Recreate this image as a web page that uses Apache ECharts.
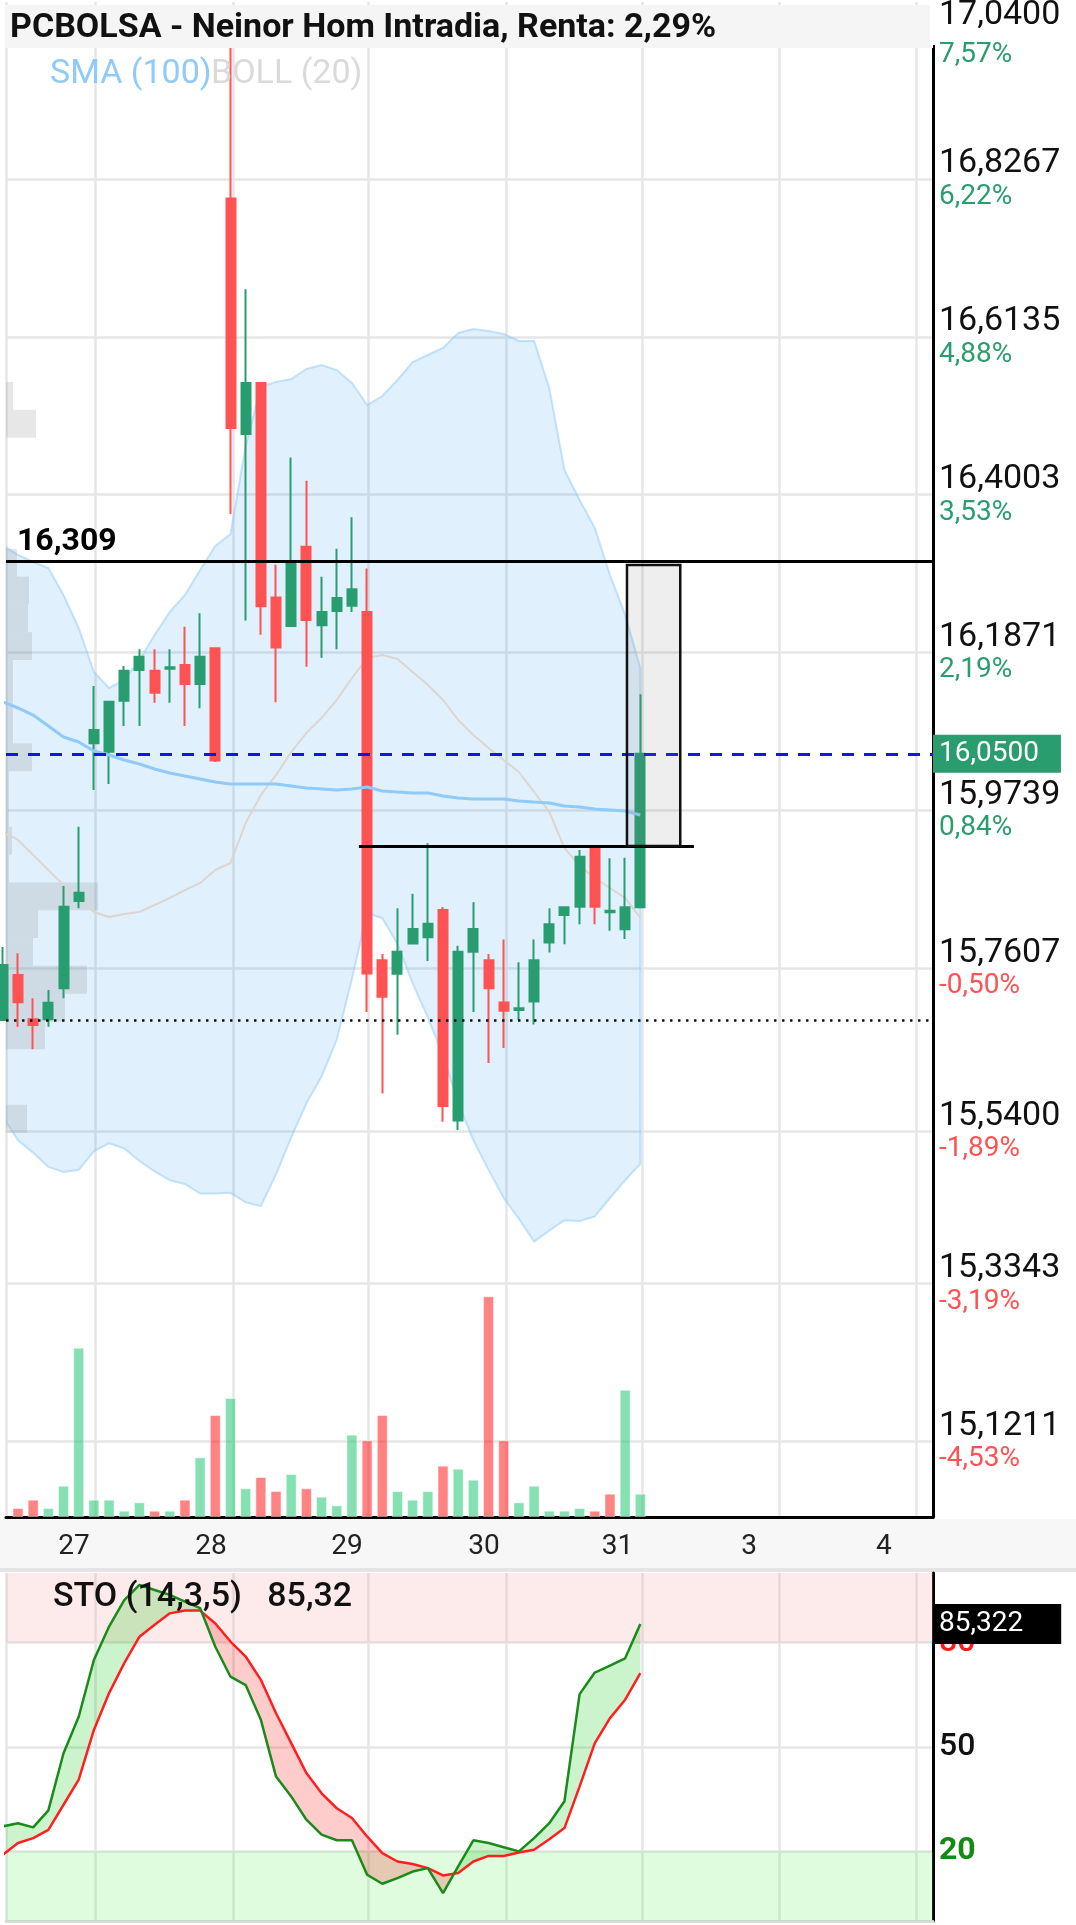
<!DOCTYPE html>
<html>
<head>
<meta charset="utf-8">
<title>PCBOLSA - Neinor Hom Intradia</title>
<script src="https://cdn.jsdelivr.net/npm/echarts@6/dist/echarts.min.js"></script>
<style>
html, body { margin: 0; padding: 0; background: #fff; }
#chart { width: 1076px; height: 1925px; }
</style>
</head>
<body>
<div id="chart"></div>
<script>
// velas horarias (indice 0 = primera vela, medio cortada por el borde)
var opens  = [15.6905, 15.7513, 15.6915, 15.6915, 15.7333, 15.8513, 16.0643, 16.053, 16.1219, 16.1634, 16.1624, 16.165, 16.1701, 16.1445, 16.1927,
              16.8004, 16.4822, 16.5511, 16.2613, 16.2229, 16.3299, 16.2237, 16.2431, 16.2502, 16.2417, 15.7713, 15.7528, 15.7937, 15.8021, 15.839,
              15.5546, 15.7825, 15.7713, 15.7142, 15.704, 15.7153, 15.795, 15.8324, 15.8436, 15.9225, 15.836, 15.8131, 15.8428];
var closes = [15.7648, 15.7145, 15.6838, 15.7139, 15.8436, 15.8625, 16.0823, 16.1205, 16.1624, 16.1813, 16.1327, 16.167, 16.1445, 16.1813, 16.0411,
              16.4903, 16.5511, 16.2494, 16.1936, 16.3074, 16.2309, 16.2417, 16.2607, 16.2724, 15.7533, 15.722, 15.7825, 15.8133, 15.8206, 15.5742,
              15.7825, 15.8133, 15.7332, 15.703, 15.7065, 15.7713, 15.8198, 15.8428, 15.9111, 15.8436, 15.838, 15.8428, 16.05];
var lows   = [15.6905, 15.6815, 15.6509, 15.6815, 15.7198, 15.8414, 16.0013, 16.0094, 16.0877, 16.0877, 16.1192, 16.1192, 16.0877, 16.1116, 16.0391,
              16.3741, 16.2302, 16.2109, 16.1197, 16.2229, 16.1678, 16.18, 16.1913, 16.2417, 15.7013, 15.591, 15.6705, 15.7926, 15.7702, 15.5529,
              15.5419, 15.7013, 15.6324, 15.6526, 15.6901, 15.6844, 15.7815, 15.7928, 15.8198, 15.8198, 15.8112, 15.8, 15.8414];
var highs  = [15.7891, 15.7807, 15.7198, 15.731, 15.8716, 15.9517, 16.1417, 16.1205, 16.1688, 16.1913, 16.1913, 16.1913, 16.2219, 16.24, 16.1927,
              17.01, 16.6777, 16.5511, 16.3056, 16.4503, 16.4191, 16.2894, 16.3272, 16.3697, 16.3006, 15.7797, 15.8413, 15.8609, 15.9292, 15.843,
              15.7909, 15.8497, 15.7797, 15.7993, 15.7685, 15.7993, 15.8414, 15.8428, 15.9202, 15.9225, 15.909, 15.9098, 16.1305];
var volumes = [null, 9, 17.3, 9, 31.3, 169.3, 17.3, 17.3, 6.3, 14.7, 6.3, 6.3, 17.3, 59.7, 102, 119, 28.7, 40, 26, 43, 28.7, 20.3,
               11.7, 82.3, 76.7, 102, 26, 17.3, 26, 51.3, 48.3, 37.3, 220.7, 76.7, 14.7, 31.3, 6.3, 6.3, 9, 6.3, 23.3, 127.3, 23.3];

// indicadores
var sma100 = [16.1201, 16.112, 16.1025, 16.0877, 16.0728, 16.0661, 16.0539, 16.0485, 16.0417, 16.0363, 16.0296, 16.0242, 16.0201, 16.0161, 16.012,
              16.0093, 16.0093, 16.0093, 16.0093, 16.0066, 16.0039, 16.0026, 16.0012, 16.0026, 16.0053, 15.9999, 15.9985, 15.9972, 15.9972, 15.9931,
              15.9904, 15.9891, 15.9891, 15.9891, 15.9864, 15.985, 15.9837, 15.9796, 15.9782, 15.9755, 15.9742, 15.9728, 15.9674];
var bollUpper = [16.332, 16.3187, 16.3092, 16.3011, 16.2647, 16.2201, 16.1606, 16.139, 16.1498, 16.1768, 16.2106, 16.2417, 16.2647, 16.2984, 16.3309,
                 16.3471, 16.466, 16.5457, 16.5524, 16.5565, 16.57, 16.5754, 16.5686, 16.5511, 16.5213, 16.5335, 16.5551, 16.5794, 16.5889, 16.5984,
                 16.6186, 16.624, 16.6213, 16.6173, 16.6078, 16.6078, 16.5443, 16.4335, 16.393, 16.3552, 16.2917, 16.2376, 16.166];
var bollMid = [15.9445, 15.9337, 15.9134, 15.8931, 15.8729, 15.8526, 15.8364, 15.8296, 15.8337, 15.8364, 15.8458, 15.8553, 15.8661, 15.8756, 15.8931,
               15.9026, 15.9566, 15.9945, 16.0215, 16.0525, 16.0782, 16.0985, 16.1228, 16.1525, 16.1795, 16.1836, 16.1782, 16.1606, 16.1431, 16.1228,
               16.0958, 16.0755, 16.058, 16.0417, 16.0255, 15.9985, 15.9715, 15.9229, 15.8985, 15.8823, 15.8688, 15.8553, 15.8283];
var bollLower = [15.56, 15.528, 15.511, 15.492, 15.485, 15.488, 15.513, 15.524, 15.517, 15.5, 15.486, 15.474, 15.469, 15.456, 15.456,
                 15.457, 15.444, 15.439, 15.482, 15.532, 15.578, 15.614, 15.664, 15.746, 15.835, 15.828, 15.793, 15.74, 15.694, 15.642,
                 15.578, 15.528, 15.488, 15.45, 15.422, 15.391, 15.406, 15.42, 15.419, 15.425, 15.45, 15.474, 15.496];
var stoK = [27.2, 28.1, 26.9, 31.8, 48.2, 58.7, 75.0, 84.6, 92.2, 96.6, 95.1, 93.7, 91.8, 89.9, 78.8, 70.2, 67.8, 57.8, 41.5, 35.8, 29.1, 24.8,
            23.2, 23.2, 13.3, 10.7, 12.3, 14.2, 15.2, 8.0, 15.7, 23.2, 22.4, 21.2, 20.0, 23.8, 28.1, 34.4, 65.2, 71.4, 73.4, 75.5, 85.322];
var stoD = [19.0, 22.4, 23.8, 26.2, 33.4, 40.6, 54.9, 65.5, 74.1, 81.7, 85.1, 88.4, 89.2, 89.2, 85.5, 80.3, 76.0, 69.3, 59.7, 51.1, 42.5, 36.7,
            32.4, 29.6, 24.3, 19.5, 17.1, 16.4, 15.2, 13.1, 13.8, 17.1, 18.7, 18.7, 19.7, 20.5, 23.5, 26.7, 38.7, 51.1, 58.3, 63.6, 71.2];

// perfil de volumen por precio (techo de cada tramo)
var profileTop = [16.5524, 16.5148, 16.4773, 16.4397, 16.4022, 16.3646, 16.327, 16.2895, 16.2519, 16.2144, 16.1768, 16.1392, 16.1017, 16.0641,
                  16.0266, 15.989, 15.9514, 15.9139, 15.8763, 15.8388, 15.8012, 15.7636, 15.7261, 15.6885, 15.651, 15.6134, 15.5758];
var profileVol = [7, 30, 0, 0, 0, 0, 11, 23, 22, 26, 7, 7, 7, 26, 3, 3, 6, 3, 92, 32, 27, 81, 59, 39, 0, 0, 21];
var profileStep = 0.03756;

// niveles dibujados
var lastPrice = 16.05;
var resistance = 16.309;
var dottedLevel = 15.6896;
var support = 15.9256;
var supportFrom = 23.46, supportTo = 45.53;
var boxFrom = 41.12, boxTo = 44.63, boxTop = 16.3052;

// ejes
var priceTicks = [17.04, 16.8267, 16.6135, 16.4003, 16.1871, 15.9739, 15.7607, 15.54, 15.3343, 15.1211];
var pctLabels = ['7,57%', '6,22%', '4,88%', '3,53%', '2,19%', '0,84%', '-0,50%', '-1,89%', '-3,19%', '-4,53%'];
var dayLabels = ['27', '28', '29', '30', '31', '3', '4'];
var dayPos = [4.69, 13.71, 22.67, 31.7, 40.5, 49.16, 58.05];
var gridPos = [0.21, 6.1, 15.15, 24.1, 33.15, 42.1, 51.15, 60.15];
var stoTicks = [20, 50, 80];

var X_MIN = 0.21, X_MAX = 61.28;
var GREEN = '#289d70', RED = '#ff5252';

function comma(v, d) { return v.toFixed(d).replace('.', ','); }
function nearest(arr, v) {
    var best = 0;
    for (var i = 1; i < arr.length; i++) {
        if (Math.abs(arr[i] - v) < Math.abs(arr[best] - v)) best = i;
    }
    return best;
}

var candles = [], volData = [], smaData = [], midData = [], kData = [], dData = [];
for (var i = 0; i < closes.length; i++) {
    candles.push([i, opens[i], closes[i], lows[i], highs[i]]);
    var up = i === 0 || closes[i] >= closes[i - 1];
    volData.push({ value: [i, volumes[i]], itemStyle: { color: up ? 'rgba(40,200,120,0.57)' : 'rgba(255,30,30,0.55)' } });
    smaData.push([i, sma100[i]]);
    midData.push([i, bollMid[i]]);
    kData.push([i, stoK[i]]);
    dData.push([i, stoD[i]]);
}
var profileData = [];
for (var j = 0; j < profileTop.length; j++) {
    if (profileVol[j] > 0) profileData.push([profileTop[j], profileTop[j] - profileStep, profileVol[j]]);
}
var lastK = stoK[stoK.length - 1];

var chart = echarts.init(document.getElementById('chart'));

var option = {
    animation: false,
    backgroundColor: '#fff',
    textStyle: { fontFamily: 'Roboto' },
    title: [
        { text: 'PCBOLSA - Neinor Hom Intradia, Renta: 2,29%', left: 10, top: 11, padding: 0, z: 20,
          textStyle: { fontSize: 34, fontWeight: 'bold', color: '#111' } },
        { text: 'SMA (100)', left: 50, top: 57, padding: 0, z: 20,
          textStyle: { fontSize: 34, fontWeight: 'normal', color: '#90caf9' } },
        { text: 'BOLL (20)', left: 211, top: 57, padding: 0, z: 20,
          textStyle: { fontSize: 34, fontWeight: 'normal', color: '#dadada' } },
        { text: 'STO (14,3,5)   ' + comma(lastK, 2), left: 53, top: 1580, padding: 0, z: 20,
          textStyle: { fontSize: 34, fontWeight: 500, color: '#111' } }
    ],
    graphic: [
        { type: 'rect', z: 5, shape: { x: 5, y: 5, width: 928, height: 43 }, style: { fill: '#f5f5f5' } },
        { type: 'rect', z: 5, shape: { x: 930, y: 0, width: 8, height: 45 }, style: { fill: '#fff' } },
        { type: 'rect', z: -10, shape: { x: 0, y: 1519, width: 1076, height: 49 }, style: { fill: '#f7f7f7' } },
        { type: 'rect', z: -10, shape: { x: 0, y: 1568, width: 1076, height: 4 }, style: { fill: '#e4e4e4' } }
    ],
    grid: [
        { left: 6, top: 2, width: 927, height: 1515, outerBoundsMode: 'none' },
        { left: 6, top: 1573, width: 927, height: 348, outerBoundsMode: 'none' }
    ],
    xAxis: [
        { type: 'value', gridIndex: 0, min: X_MIN, max: X_MAX,
          axisLine: { show: true, onZero: false, lineStyle: { color: '#000', width: 3 } },
          axisTick: { show: false, customValues: gridPos },
          splitLine: { show: true, lineStyle: { color: '#e6e6e6', width: 2.5 } },
          axisLabel: { customValues: dayPos, margin: 16, fontSize: 28, lineHeight: 28, color: '#222',
                       formatter: function (v) { return dayLabels[nearest(dayPos, v)]; } } },
        { type: 'value', gridIndex: 1, min: X_MIN, max: X_MAX,
          axisLine: { show: true, onZero: false, lineStyle: { color: '#dcdcdc', width: 3 } },
          axisTick: { show: false, customValues: gridPos },
          splitLine: { show: true, lineStyle: { color: '#e6e6e6', width: 2.5 } },
          axisLabel: { show: false } },
        { type: 'value', gridIndex: 0, min: 0, max: 927, show: false }
    ],
    yAxis: [
        { type: 'value', gridIndex: 0, position: 'right', min: 15.019, max: 17.0658,
          axisLine: { show: true, onZero: false, lineStyle: { color: '#000', width: 3 } },
          axisTick: { show: false, customValues: priceTicks },
          splitLine: { show: true, lineStyle: { color: '#e6e6e6', width: 2.5 } },
          axisLabel: {
              customValues: priceTicks, margin: 6,
              formatter: function (v) {
                  var k = nearest(priceTicks, v);
                  var cls = pctLabels[k].charAt(0) === '-' ? 'neg' : 'pos';
                  var top = k === 0 ? 'T' : '';
                  return '{p' + top + '|' + comma(priceTicks[k], 4) + '}\n{' + cls + top + '|' + pctLabels[k] + '}';
              },
              rich: {
                  p: { fontSize: 34, lineHeight: 36, color: '#111' },
                  pos: { fontSize: 28, lineHeight: 30, color: '#2a9d6f' },
                  neg: { fontSize: 28, lineHeight: 30, color: '#ff5252' },
                  // la etiqueta superior queda pegada al borde y baja un poco
                  pT: { fontSize: 34, lineHeight: 68, color: '#111' },
                  posT: { fontSize: 28, lineHeight: 12, color: '#2a9d6f' }
              }
          } },
        { type: 'value', gridIndex: 0, min: 0, max: 1515, show: false },
        { type: 'value', gridIndex: 1, position: 'right', min: 0, max: 100,
          axisLine: { show: true, onZero: false, lineStyle: { color: '#000', width: 3 } },
          axisTick: { show: false, customValues: stoTicks },
          splitLine: { show: true, lineStyle: { color: '#e6e6e6', width: 2.5 } },
          axisLabel: {
              customValues: stoTicks, margin: 6,
              formatter: function (v) {
                  var key = v >= 80 ? 'hi' : (v <= 20 ? 'lo' : 'mid');
                  return '{' + key + '|' + v + '}';
              },
              rich: {
                  hi: { fontSize: 32, fontWeight: 500, color: '#ff1a1a' },
                  mid: { fontSize: 32, fontWeight: 500, color: '#111' },
                  lo: { fontSize: 32, fontWeight: 'bold', color: '#138a13' }
              }
          } }
    ],
    series: [
        {
            name: 'BOLL (20)', type: 'custom', xAxisIndex: 0, yAxisIndex: 0, z: 1, clip: true, silent: true,
            data: [[0, bollMid[0]]],
            renderItem: function (params, api) {
                var pts = [];
                for (var a = 0; a < bollUpper.length; a++) pts.push(api.coord([a, bollUpper[a]]));
                for (var b = bollLower.length - 1; b >= 0; b--) pts.push(api.coord([b, bollLower[b]]));
                return { type: 'polygon', shape: { points: pts },
                         style: { fill: 'rgba(33,150,243,0.14)', stroke: 'rgba(144,202,249,0.5)', lineWidth: 2 } };
            }
        },
        {
            name: 'Perfil', type: 'custom', xAxisIndex: 2, yAxisIndex: 0, z: 1, clip: true, silent: true,
            data: profileData,
            encode: { x: 2, y: 0 },
            renderItem: function (params, api) {
                var p0 = api.coord([0, api.value(0)]);
                var p1 = api.coord([api.value(2), api.value(1)]);
                return { type: 'rect', shape: { x: p0[0], y: p0[1], width: p1[0] - p0[0], height: p1[1] - p0[1] },
                         style: { fill: 'rgba(140,140,140,0.21)' } };
            }
        },
        {
            name: 'BOLL media', type: 'line', xAxisIndex: 0, yAxisIndex: 0, z: 2, data: midData,
            showSymbol: false, silent: true, lineStyle: { color: '#ddd6d0', width: 2 }
        },
        {
            name: 'Volumen', type: 'bar', xAxisIndex: 0, yAxisIndex: 1, z: 2, barWidth: 11, data: volData,
            itemStyle: { borderColor: 'rgba(255,255,255,0.5)', borderWidth: 1 }
        },
        {
            name: 'PCBOLSA', type: 'candlestick', xAxisIndex: 0, yAxisIndex: 0, z: 3, barWidth: 9.5, data: candles,
            itemStyle: { color: GREEN, color0: RED, borderColor: GREEN, borderColor0: RED, borderWidth: 2 },
            markLine: {
                symbol: ['none', 'none'], silent: true, animation: false,
                data: [
                    { yAxis: lastPrice, lineStyle: { color: '#1414e8', width: 3, type: [12, 10] },
                      label: { show: true, position: 'end', distance: 0, formatter: comma(lastPrice, 4),
                               backgroundColor: '#2a9d6f', color: '#fff', fontSize: 28, lineHeight: 30, padding: [4, 22, 4, 6] } },
                    { yAxis: resistance, lineStyle: { color: '#000', width: 3, type: 'solid' },
                      label: { show: true, position: 'insideStartTop', distance: 3, formatter: comma(resistance, 3),
                               fontSize: 32, fontWeight: 'bold', color: '#000', padding: [0, 0, 0, 8] } },
                    { yAxis: dottedLevel, lineStyle: { color: '#111', width: 2.5, type: [2.5, 5.5] }, label: { show: false } },
                    [
                        { coord: [supportFrom, support], lineStyle: { color: '#000', width: 3, type: 'solid' }, label: { show: false } },
                        { coord: [supportTo, support] }
                    ]
                ]
            },
            markArea: {
                z: 10, silent: true,
                data: [[
                    { coord: [boxFrom, boxTop], itemStyle: { color: 'rgba(120,120,120,0.13)', borderColor: '#111', borderWidth: 2.5 } },
                    { coord: [boxTo, support] }
                ]]
            }
        },
        {
            name: 'SMA (100)', type: 'line', xAxisIndex: 0, yAxisIndex: 0, z: 4, data: smaData,
            showSymbol: false, silent: true, lineStyle: { color: '#90caf9', width: 3 }
        },
        {
            name: 'STO relleno', type: 'custom', xAxisIndex: 1, yAxisIndex: 2, z: 2, clip: true, silent: true,
            data: [[0, stoK[0]]],
            markArea: {
                silent: true,
                data: [
                    [{ yAxis: 80, itemStyle: { color: 'rgba(248,160,160,0.22)' } }, { yAxis: 100 }],
                    [{ yAxis: 0, itemStyle: { color: 'rgba(80,240,80,0.18)' } }, { yAxis: 20 }]
                ]
            },
            renderItem: function (params, api) {
                var children = [];
                function close(kp, dp, s) {
                    var pts = [];
                    for (var a = 0; a < kp.length; a++) pts.push(api.coord(kp[a]));
                    for (var b = dp.length - 1; b >= 0; b--) pts.push(api.coord(dp[b]));
                    children.push({ type: 'polygon', shape: { points: pts },
                                    style: { fill: s >= 0 ? 'rgba(0,200,0,0.2)' : 'rgba(255,0,0,0.2)' } });
                }
                var kp = [[0, stoK[0]]], dp = [[0, stoD[0]]];
                var s = stoK[0] - stoD[0] >= 0 ? 1 : -1;
                for (var n = 1; n < stoK.length; n++) {
                    var dPrev = stoK[n - 1] - stoD[n - 1];
                    var d = stoK[n] - stoD[n];
                    var sn = d > 0 ? 1 : (d < 0 ? -1 : s);
                    if (sn !== s) {
                        var t = dPrev / (dPrev - d);
                        var cross = [n - 1 + t, stoK[n - 1] + t * (stoK[n] - stoK[n - 1])];
                        kp.push(cross); dp.push(cross);
                        close(kp, dp, s);
                        kp = [cross]; dp = [cross];
                        s = sn;
                    }
                    kp.push([n, stoK[n]]);
                    dp.push([n, stoD[n]]);
                }
                close(kp, dp, s);
                return { type: 'group', children: children };
            }
        },
        {
            name: '%D', type: 'line', xAxisIndex: 1, yAxisIndex: 2, z: 4, data: dData,
            showSymbol: false, silent: true, lineStyle: { color: '#ff1f1f', width: 2.5 }
        },
        {
            name: '%K', type: 'line', xAxisIndex: 1, yAxisIndex: 2, z: 4, data: kData,
            showSymbol: false, silent: true, lineStyle: { color: '#1a8a1a', width: 2.5 },
            markLine: {
                symbol: ['none', 'none'], silent: true, animation: false,
                data: [{ yAxis: lastK, lineStyle: { color: 'rgba(0,0,0,0)', width: 1 },
                         label: { show: true, position: 'end', distance: 0, formatter: comma(lastK, 3),
                                  backgroundColor: '#000', color: '#fff', fontSize: 28, lineHeight: 30, padding: [5, 38, 5, 6] } }]
            }
        }
    ]
};

chart.setOption(option);
</script>
</body>
</html>
